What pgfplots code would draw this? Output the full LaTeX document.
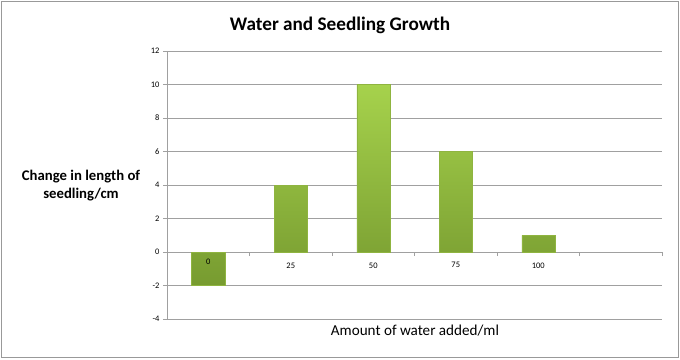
\documentclass[border=0pt]{standalone}
\usepackage{pgfplots}
\pgfplotsset{compat=1.18}
\usepackage{fontspec}
\setmainfont{Carlito}
\definecolor{gridgray}{HTML}{A0A0A0}
\definecolor{bartop}{HTML}{A6D24C}
\definecolor{barbot}{HTML}{779B30}
\definecolor{baredge}{HTML}{8FB440}
\begin{document}
\begin{tikzpicture}[x=1bp,y=1bp]
\useasboundingbox (-167,-40) rectangle (513,319);
\draw[gray!80, line width=0.8bp] (-165.5,-38.5) rectangle (511.5,317.5);
\begin{axis}[
  at={(0,0)}, anchor=south west,
  scale only axis,
  width=495bp, height=268bp,
  xmin=-0.5, xmax=5.5,
  ymin=-4, ymax=12,
  ytick={-4,-2,...,12},
  xtick={0,1,2,3,4},
  xticklabels={{},25,50,75,100},
  minor xtick={0.5,1.5,2.5,3.5,4.5,5.5},
  axis x line=middle,
  axis y line=left,
  axis line style={-, draw=gridgray, line width=0.8bp},
  ymajorgrids,
  grid style={draw=gridgray, line width=0.8bp},
  tick align=outside,
  major x tick style={draw=none},
  minor x tick style={draw=gridgray, line width=0.6bp},
  minor tick length=4bp,
  major y tick style={draw=gridgray, line width=0.6bp},
  major tick length=4bp,
  /pgf/number format/assume math mode=true,
  tick label style={font=\fontsize{8.5}{10}\selectfont},
  xticklabel style={yshift=-3bp},
  clip=false,
]
\addplot[ybar, bar width=0.4, top color=bartop, bottom color=barbot, draw=baredge, line width=0.5bp]
  coordinates {(0,-2) (1,4) (2,10) (3,6) (4,1)};
\node[font=\fontsize{8.5}{10}\selectfont, anchor=north, yshift=-3bp, inner sep=0.333em] at (axis cs:0,0) {0};
\end{axis}
\node[font=\fontsize{19.3}{23}\selectfont\bfseries] at (173,294) {Water and Seedling Growth};
\node[font=\fontsize{15.2}{18}\selectfont] at (248,-12) {Amount of water added/ml};
\node[font=\fontsize{14.8}{18}\selectfont\bfseries, align=center] at (-86,133) {Change in length of\\seedling/cm};
\end{tikzpicture}
\end{document}
